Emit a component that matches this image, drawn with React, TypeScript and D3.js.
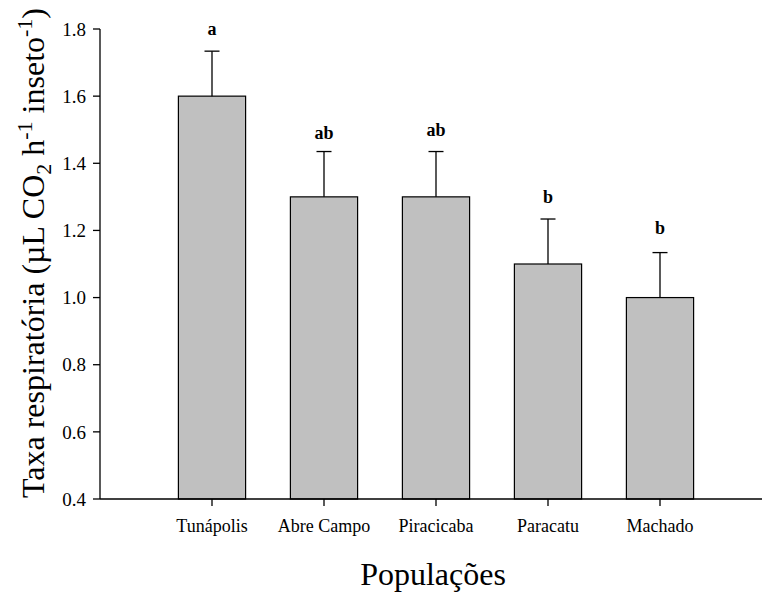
import React from "react";
import * as d3 from "d3";

// Respiratory rate per population (mean ± SE) with Tukey group letters
const populations = ["Tunápolis", "Abre Campo", "Piracicaba", "Paracatu", "Machado"];
const means = [1.6, 1.3, 1.3, 1.1, 1.0];
const errors = [0.134, 0.135, 0.135, 0.134, 0.134];
const groupLetters = ["a", "ab", "ab", "b", "b"];
const letterLevels = [1.782, 1.471, 1.481, 1.283, 1.189];
const yTicks = [0.4, 0.6, 0.8, 1.0, 1.2, 1.4, 1.6, 1.8];

const W = 762;
const H = 594;
const FONT = "'Liberation Serif', 'Times New Roman', serif";

export default function App() {
  const x = d3.scaleLinear().domain([0, populations.length + 1]).range([100, 772]);
  const y = d3.scaleLinear().domain([0.4, 1.8]).range([499, 29]);
  const step = x(1) - x(0);
  const barW = step * 0.6;
  const capHalf = 7.5;
  const fmt = d3.format(".1f");

  return (
    <svg
      width={W}
      height={H}
      style={{ position: "absolute", left: 0, top: 0, background: "#fff" }}
      fontFamily={FONT}
    >
      {/* bars */}
      {populations.map((p, i) => (
        <rect
          key={p}
          x={x(i + 1) - barW / 2}
          y={y(means[i])}
          width={barW}
          height={y(0.4) - y(means[i])}
          fill="#c0c0c0"
          stroke="#000"
          strokeWidth={1.2}
        />
      ))}

      {/* error bars */}
      {populations.map((p, i) => {
        const cx = x(i + 1);
        const top = y(means[i] + errors[i]);
        return (
          <g key={p + "-err"} stroke="#000" strokeWidth={1.3}>
            <line x1={cx} x2={cx} y1={y(means[i])} y2={top} />
            <line x1={cx - capHalf} x2={cx + capHalf} y1={top} y2={top} />
          </g>
        );
      })}

      {/* group letters */}
      {populations.map((p, i) => (
        <text
          key={p + "-l"}
          x={x(i + 1)}
          y={y(letterLevels[i])}
          textAnchor="middle"
          fontSize={18}
          fontWeight="bold"
        >
          {groupLetters[i]}
        </text>
      ))}

      {/* y axis */}
      <line x1={100} x2={100} y1={y(1.8)} y2={y(0.4)} stroke="#000" strokeWidth={1.3} />
      {yTicks.map((t) => (
        <g key={t}>
          <line x1={93} x2={100} y1={y(t)} y2={y(t)} stroke="#000" strokeWidth={1.3} />
          <text x={86} y={y(t)} dy="0.35em" textAnchor="end" fontSize={19}>
            {fmt(t)}
          </text>
        </g>
      ))}

      {/* x axis */}
      <line x1={100} x2={W} y1={y(0.4)} y2={y(0.4)} stroke="#000" strokeWidth={1.3} />
      {populations.map((p, i) => (
        <g key={p + "-t"}>
          <line
            x1={x(i + 1)}
            x2={x(i + 1)}
            y1={y(0.4)}
            y2={y(0.4) + 7}
            stroke="#000"
            strokeWidth={1.3}
          />
          <text x={x(i + 1)} y={532} textAnchor="middle" fontSize={18}>
            {p}
          </text>
        </g>
      ))}

      {/* axis titles */}
      <text x={433} y={585} textAnchor="middle" fontSize={32}>
        Populações
      </text>
      <text
        transform="translate(44,253) rotate(-90)"
        textAnchor="middle"
        fontSize={32}
      >
        Taxa respiratória (µL CO
        <tspan fontSize={22} dy={7}>2</tspan>
        <tspan dy={-7}> h</tspan>
        <tspan fontSize={22} dy={-12}>-1</tspan>
        <tspan dy={12}> inseto</tspan>
        <tspan fontSize={22} dy={-12}>-1</tspan>
        <tspan dy={12}>)</tspan>
      </text>
    </svg>
  );
}
